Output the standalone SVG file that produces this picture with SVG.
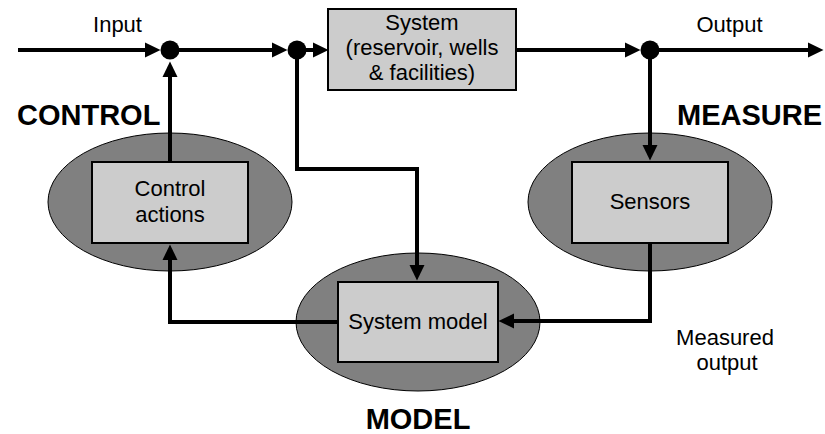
<svg xmlns="http://www.w3.org/2000/svg" width="825" height="434" viewBox="0 0 825 434">
<style>
  .t { font-family: "Liberation Sans", Arial, sans-serif; font-size: 22px; fill: #000; text-anchor: middle; }
  .b { font-family: "Liberation Sans", Arial, sans-serif; font-size: 29px; font-weight: bold; fill: #000; }
  .ell { fill: #808080; stroke: #000; stroke-width: 1; }
  .box { fill: #cccccc; stroke: #000; stroke-width: 2; }
  .c { fill: none; stroke: #000; stroke-width: 4; marker-end: url(#ah); }
  .dot { fill: #000; }
</style>
<defs>
  <marker id="ah" markerUnits="userSpaceOnUse" markerWidth="16" markerHeight="16" refX="0" refY="7.5" orient="auto" viewBox="0 0 16 15">
    <path d="M0,0 L15.5,7.5 L0,15 Z" fill="#000"/>
  </marker>
</defs>
<rect width="825" height="434" fill="#fff"/>

<g id="control">
  <ellipse class="ell" cx="170" cy="202" rx="122" ry="69"/>
  <rect class="box" x="92" y="162" width="156" height="81"/>
  <text class="t" x="170" y="196">Control</text>
  <text class="t" x="170" y="222">actions</text>
</g>
<g id="sensors">
  <ellipse class="ell" cx="650" cy="202" rx="122" ry="69"/>
  <rect class="box" x="572" y="162" width="156" height="81"/>
  <text class="t" x="650" y="209">Sensors</text>
</g>
<g id="model">
  <ellipse class="ell" cx="418" cy="322" rx="122" ry="69"/>
  <rect class="box" x="338" y="282" width="160" height="80"/>
  <text class="t" x="418" y="329">System model</text>
</g>
<g id="system">
  <rect class="box" x="328" y="9" width="188" height="81"/>
  <text class="t" x="422" y="30">System</text>
  <text class="t" x="422" y="55">(reservoir, wells</text>
  <text class="t" x="422" y="80">&amp; facilities)</text>
</g>

<g id="connectors">
  <path class="c" d="M18,50 H145"/>
  <path class="c" d="M170,50 H272"/>
  <path class="c" d="M297,50 H313"/>
  <path class="c" d="M516,50 H625"/>
  <path class="c" d="M650,50 H808"/>
  <path class="c" d="M650,50 V145"/>
  <path class="c" d="M650,243 V321 H514"/>
  <path class="c" d="M338,322 H170 V260"/>
  <path class="c" d="M170,162 V77"/>
  <path class="c" d="M297,50 V169 H417 V265"/>
  <circle class="dot" cx="170" cy="50" r="9.5"/>
  <circle class="dot" cx="297" cy="50" r="9.5"/>
  <circle class="dot" cx="650" cy="50" r="9.5"/>
</g>

<g id="labels">
  <text class="t" x="117.5" y="31.5">Input</text>
  <text class="t" x="729.5" y="31.5">Output</text>
  <text class="b" x="17" y="125">CONTROL</text>
  <text class="b" x="677" y="125">MEASURE</text>
  <text class="b" x="418" y="429" text-anchor="middle">MODEL</text>
  <text class="t" x="725" y="344.5">Measured</text>
  <text class="t" x="727" y="370">output</text>
</g>
</svg>
